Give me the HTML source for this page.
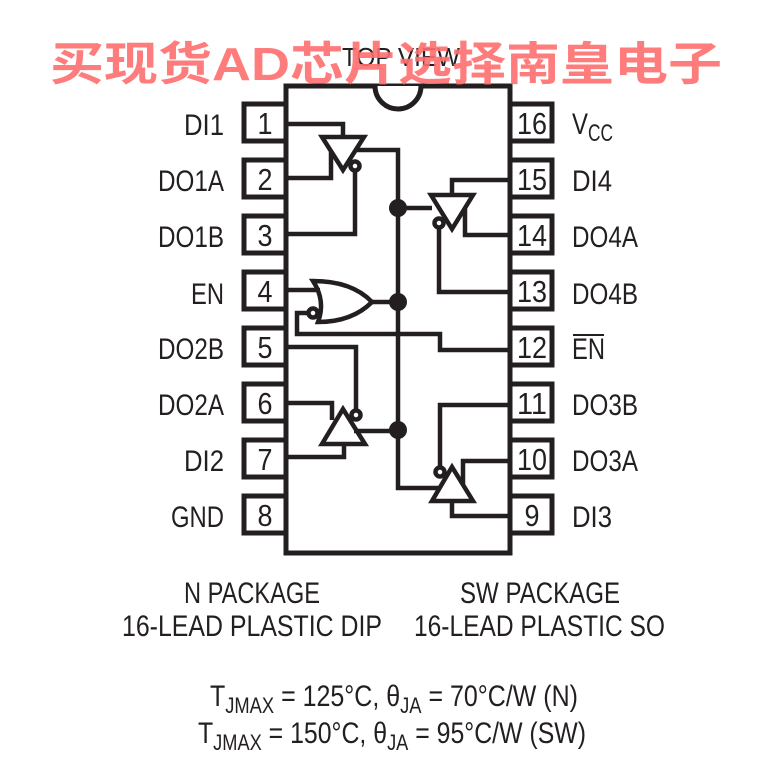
<!DOCTYPE html>
<html><head><meta charset="utf-8"><style>
html,body{margin:0;padding:0;background:#fff}
svg{display:block}
text{font-family:"Liberation Sans",sans-serif;fill:#231f20}
</style></head><body>
<svg width="780" height="780" viewBox="0 0 780 780" xmlns="http://www.w3.org/2000/svg">
<g fill="none" stroke="#231f20" stroke-width="5">
<rect x="286" y="86" width="224" height="467"/>
<path d="M375 86 A23 23 0 0 0 421 86" fill="#fff"/>
<rect x="244" y="104" width="42" height="37"/>
<rect x="244" y="160" width="42" height="37"/>
<rect x="244" y="216" width="42" height="37"/>
<rect x="244" y="272" width="42" height="37"/>
<rect x="244" y="328" width="42" height="37"/>
<rect x="244" y="384" width="42" height="37"/>
<rect x="244" y="440" width="42" height="37"/>
<rect x="244" y="496" width="42" height="37"/>
<rect x="510" y="104" width="42" height="37"/>
<rect x="510" y="160" width="42" height="37"/>
<rect x="510" y="216" width="42" height="37"/>
<rect x="510" y="272" width="42" height="37"/>
<rect x="510" y="328" width="42" height="37"/>
<rect x="510" y="384" width="42" height="37"/>
<rect x="510" y="440" width="42" height="37"/>
<rect x="510" y="496" width="42" height="37"/>
</g>
<g fill="none" stroke="#231f20" stroke-width="4.5">
<path d="M288 124 H343 V136"/>
<path d="M322 137 H364 L343 170 Z"/>
<path d="M355 150 H398 V488 H440"/>
<path d="M288 178 H331 V152"/>
<circle cx="355" cy="166" r="4.5" fill="#fff"/>
<path d="M355 171 V234 H288"/>
<path d="M398 208 H432"/>
<path d="M431 195 H473 L452 229 Z"/>
<path d="M510 180 H452 V195"/>
<path d="M510 235 H465 V208"/>
<circle cx="439" cy="223" r="4.5" fill="#fff"/>
<path d="M439 228 V292 H510"/>
<path d="M288 290 H320"/>
<path d="M313 281 Q326 301 318 322 Q352 322 372 302 Q352 281 313 281 Z"/>
<path d="M372 302 H398"/>
<circle cx="313" cy="313" r="4.5" fill="#fff"/>
<path d="M308 313 H297 V334 H440 V350 H510"/>
<path d="M288 347 H356 V410"/>
<circle cx="356" cy="415" r="4.5" fill="#fff"/>
<path d="M288 403 H332 V420"/>
<path d="M322 444 H365 L343 409 Z"/>
<path d="M354 431 H398"/>
<path d="M288 457 H344 V444"/>
<path d="M432 501 H473 L452 467 Z"/>
<path d="M510 405 H440 V467"/>
<circle cx="440" cy="472" r="4.5" fill="#fff"/>
<path d="M510 461 H463 V484"/>
<path d="M510 516 H452 V501"/>
</g>
<g fill="#231f20">
<circle cx="398" cy="208" r="9"/>
<circle cx="398" cy="302" r="9"/>
<circle cx="398" cy="430" r="9"/>
</g>
<g font-size="31" text-anchor="middle">
<text x="265" y="134" textLength="15" lengthAdjust="spacingAndGlyphs">1</text>
<text x="265" y="190" textLength="15" lengthAdjust="spacingAndGlyphs">2</text>
<text x="265" y="246" textLength="15" lengthAdjust="spacingAndGlyphs">3</text>
<text x="265" y="302" textLength="15" lengthAdjust="spacingAndGlyphs">4</text>
<text x="265" y="358" textLength="15" lengthAdjust="spacingAndGlyphs">5</text>
<text x="265" y="414" textLength="15" lengthAdjust="spacingAndGlyphs">6</text>
<text x="265" y="470" textLength="15" lengthAdjust="spacingAndGlyphs">7</text>
<text x="265" y="526" textLength="15" lengthAdjust="spacingAndGlyphs">8</text>
<text x="532" y="134" textLength="30" lengthAdjust="spacingAndGlyphs">16</text>
<text x="532" y="190" textLength="30" lengthAdjust="spacingAndGlyphs">15</text>
<text x="532" y="246" textLength="30" lengthAdjust="spacingAndGlyphs">14</text>
<text x="532" y="302" textLength="30" lengthAdjust="spacingAndGlyphs">13</text>
<text x="532" y="358" textLength="30" lengthAdjust="spacingAndGlyphs">12</text>
<text x="532" y="414" textLength="30" lengthAdjust="spacingAndGlyphs">11</text>
<text x="532" y="470" textLength="30" lengthAdjust="spacingAndGlyphs">10</text>
<text x="532" y="526" textLength="15" lengthAdjust="spacingAndGlyphs">9</text>
</g>
<g font-size="30">
<text x="184" y="135" textLength="40" lengthAdjust="spacingAndGlyphs">DI1</text>
<text x="158" y="191" textLength="66" lengthAdjust="spacingAndGlyphs">DO1A</text>
<text x="158" y="247" textLength="66" lengthAdjust="spacingAndGlyphs">DO1B</text>
<text x="191" y="304" textLength="33" lengthAdjust="spacingAndGlyphs">EN</text>
<text x="158" y="359" textLength="66" lengthAdjust="spacingAndGlyphs">DO2B</text>
<text x="158" y="415" textLength="66" lengthAdjust="spacingAndGlyphs">DO2A</text>
<text x="184" y="471" textLength="40" lengthAdjust="spacingAndGlyphs">DI2</text>
<text x="171" y="527" textLength="53" lengthAdjust="spacingAndGlyphs">GND</text>
<text x="572" y="134" textLength="16" lengthAdjust="spacingAndGlyphs">V</text>
<text x="588" y="141" font-size="24" textLength="25" lengthAdjust="spacingAndGlyphs">CC</text>
<text x="572" y="191" textLength="40" lengthAdjust="spacingAndGlyphs">DI4</text>
<text x="572" y="247" textLength="66" lengthAdjust="spacingAndGlyphs">DO4A</text>
<text x="572" y="304" textLength="66" lengthAdjust="spacingAndGlyphs">DO4B</text>
<text x="572" y="359" textLength="33" lengthAdjust="spacingAndGlyphs">EN</text>
<text x="572" y="415" textLength="66" lengthAdjust="spacingAndGlyphs">DO3B</text>
<text x="572" y="471" textLength="66" lengthAdjust="spacingAndGlyphs">DO3A</text>
<text x="572" y="527" textLength="40" lengthAdjust="spacingAndGlyphs">DI3</text>
</g>
<path d="M573 335 H604" stroke="#231f20" stroke-width="2"/>
<g font-size="30">
<text x="342" y="66" font-size="26" textLength="118" lengthAdjust="spacingAndGlyphs">TOP VIEW</text>
<text x="184" y="603" textLength="136" lengthAdjust="spacingAndGlyphs">N PACKAGE</text>
<text x="122" y="636" textLength="260" lengthAdjust="spacingAndGlyphs">16-LEAD PLASTIC DIP</text>
<text x="460" y="603" textLength="160" lengthAdjust="spacingAndGlyphs">SW PACKAGE</text>
<text x="414" y="636" textLength="251" lengthAdjust="spacingAndGlyphs">16-LEAD PLASTIC SO</text>
<text x="210" y="706" textLength="368" lengthAdjust="spacingAndGlyphs">T<tspan font-size="22" dy="7">JMAX</tspan><tspan dy="-7"> = 125°C, θ</tspan><tspan font-size="22" dy="7">JA</tspan><tspan dy="-7"> = 70°C/W (N)</tspan></text>
<text x="198" y="743" textLength="388" lengthAdjust="spacingAndGlyphs">T<tspan font-size="22" dy="7">JMAX</tspan><tspan dy="-7"> = 150°C, θ</tspan><tspan font-size="22" dy="7">JA</tspan><tspan dy="-7"> = 95°C/W (SW)</tspan></text>
</g>
<text x="50" y="80" font-size="46" font-weight="bold" style="fill:#ff6e6e;fill-opacity:0.9;font-family:'Liberation Sans','Noto Sans CJK SC',sans-serif" textLength="672" lengthAdjust="spacingAndGlyphs">买现货AD芯片选择南皇电子</text>
</svg>
</body></html>
